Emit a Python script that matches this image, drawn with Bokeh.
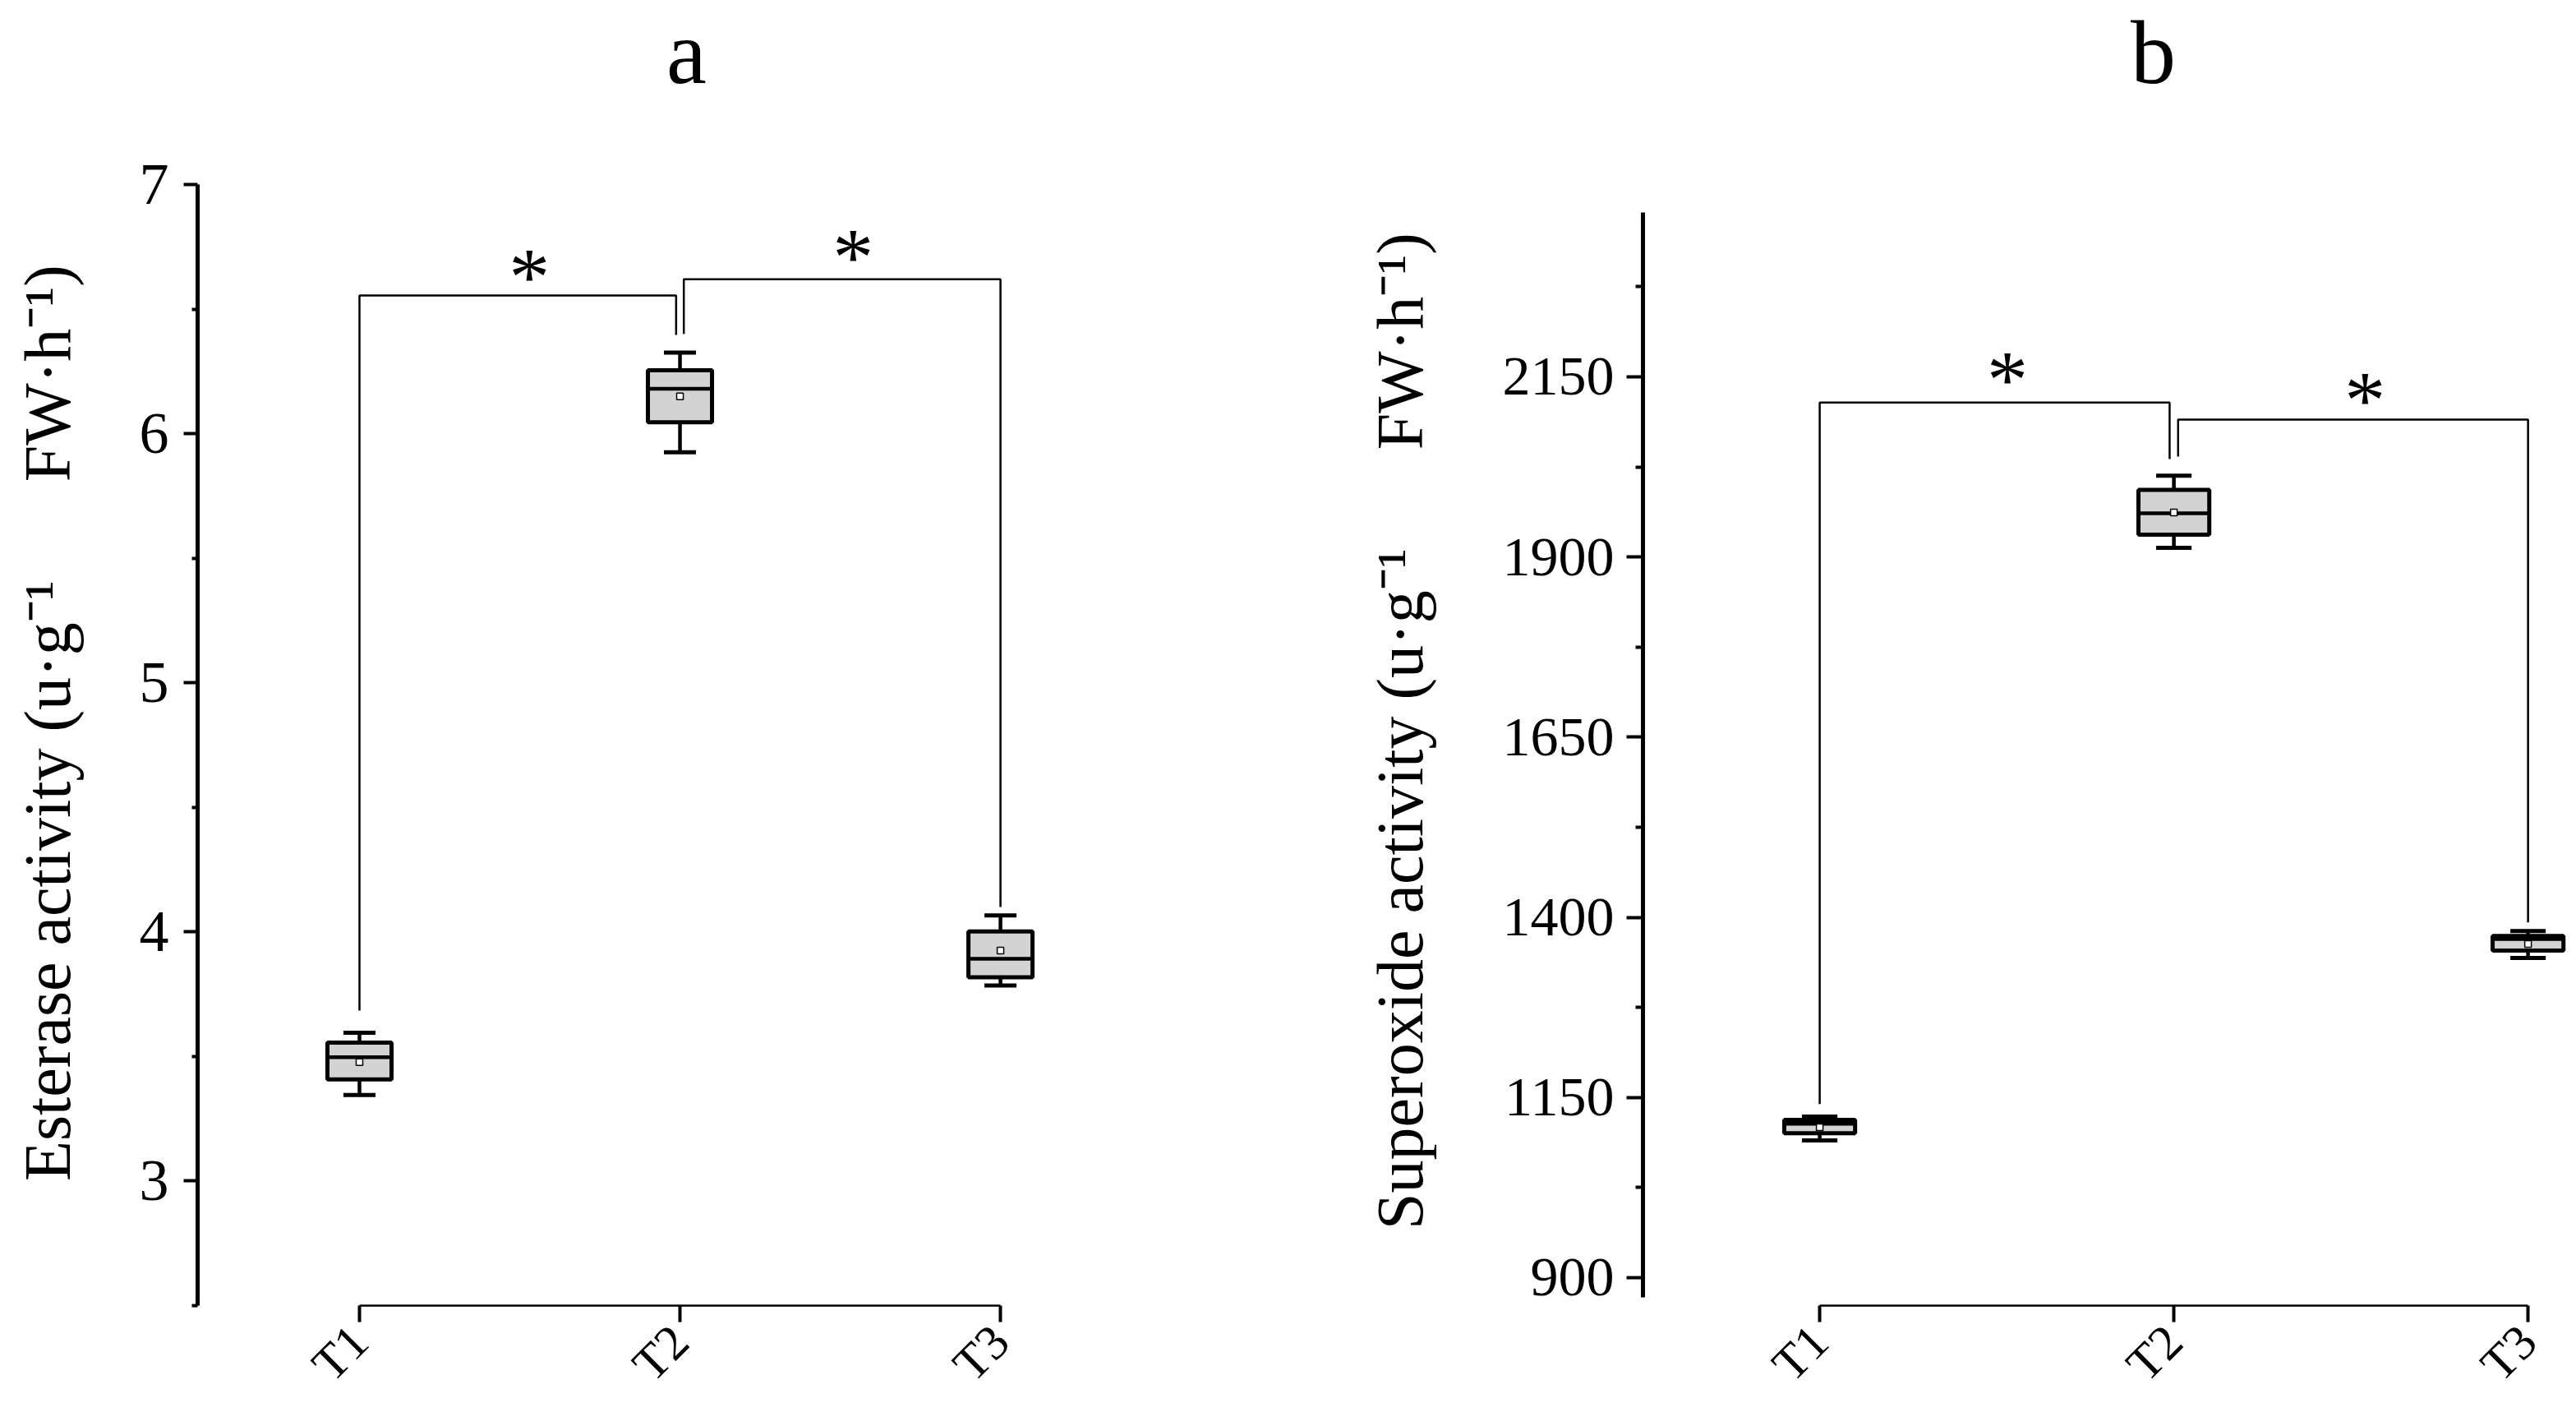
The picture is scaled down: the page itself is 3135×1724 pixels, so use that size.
import math
from bokeh.plotting import figure
from bokeh.models import Range1d, FixedTicker
from bokeh.layouts import row
from bokeh.embed import file_html
from bokeh.resources import INLINE
from bokeh.core.properties import value

FONT = "Liberation Serif"

# ---------------- data ----------------
groups = ["T1", "T2", "T3"]
xpos = [1, 2, 3]

# panel a : Esterase activity
a_whi = [3.595, 6.325, 4.066]
a_q3 = [3.556, 6.254, 4.002]
a_med = [3.497, 6.180, 3.892]
a_mean = [3.477, 6.150, 3.925]
a_q1 = [3.408, 6.046, 3.818]
a_wlo = [3.345, 5.925, 3.785]
a_brk_y = [6.555, 6.620]
a_brk_ends = [[3.684, 6.396], [6.400, 4.100]]
a_star_y = [6.677, 6.756]
a_major = [3, 4, 5, 6, 7]
a_minor = [2.5, 3.5, 4.5, 5.5, 6.5]
a_axis_bounds = (2.5, 7.0)
a_title = "a"
a_title_xy = (2.02, 7.528)

# panel b : Superoxide activity
b_whi = [1123.5, 2012.8, 1381.0]
b_q3 = [1119.0, 1993.0, 1374.0]
b_med = [1113.6, 1960.7, 1370.0]
b_mean = [1108.7, 1961.8, 1363.0]
b_q1 = [1100.5, 1931.0, 1354.0]
b_wlo = [1090.5, 1912.8, 1343.6]
b_brk_y = [2114.3, 2090.7]
b_brk_ends = [[1141.0, 2036.0], [2039.4, 1393.0]]
b_star_y = [2163.0, 2134.0]
b_major = [900, 1150, 1400, 1650, 1900, 2150]
b_minor = [1025, 1275, 1525, 1775, 2025, 2275]
b_axis_bounds = (872.6, 2378.0)
b_title = "b"
b_title_xy = (1.942, 2599.4)

pairs = [(1, 2), (2, 3)]
star_x = [1.53, 2.54]
star_text = ["*", "*"]

BOX_W = 0.2
CAP_W = 0.1
GAP = 0.012
STAR_PX = 100
TOP = 10
BOTTOM = 134
HEIGHT = 1722


def make_panel(width, xr, yr, bl, br, whi, q3, med, mean, q1, wlo,
               brk_y, brk_ends, star_y, major, minor, bounds, ylabel,
               title, title_xy, label_standoff, tick_standoff, major_len,
               minor_len, tick_font):
    p = figure(width=width, height=HEIGHT, x_range=Range1d(*xr), y_range=Range1d(*yr),
               output_backend="svg", toolbar_location=None,
               min_border_left=bl, min_border_right=br,
               min_border_top=TOP, min_border_bottom=BOTTOM)
    p.outline_line_color = None
    p.grid.visible = False
    p.background_fill_color = "white"
    p.border_fill_color = "white"

    ppu = (HEIGHT - TOP - BOTTOM) / (yr[1] - yr[0])

    # whiskers
    p.segment(x0=xpos, x1=xpos, y0=q3, y1=whi, line_color="black", line_width=4.5)
    p.segment(x0=xpos, x1=xpos, y0=q1, y1=wlo, line_color="black", line_width=4.5)
    cx0 = [x - CAP_W / 2 for x in xpos]
    cx1 = [x + CAP_W / 2 for x in xpos]
    p.segment(x0=cx0, x1=cx1, y0=whi, y1=whi, line_color="black", line_width=5)
    p.segment(x0=cx0, x1=cx1, y0=wlo, y1=wlo, line_color="black", line_width=5)
    # boxes
    p.vbar(x=xpos, width=BOX_W, top=q3, bottom=q1, fill_color="#d3d3d3",
           line_color="black", line_width=5)
    bx0 = [x - BOX_W / 2 for x in xpos]
    bx1 = [x + BOX_W / 2 for x in xpos]
    p.segment(x0=bx0, x1=bx1, y0=med, y1=med, line_color="black", line_width=4.5)
    p.scatter(x=xpos, y=mean, marker="square", size=8, fill_color="white",
              line_color="black", line_width=1.5)

    # significance brackets
    xs, ys = [], []
    for k, (i, j) in enumerate(pairs):
        xa = i + (GAP if k == 1 else 0)
        xb = j - (GAP if k == 0 else 0)
        xs.append([xa, xa, xb, xb])
        ys.append([brk_ends[k][0], brk_y[k], brk_y[k], brk_ends[k][1]])
    p.multi_line(xs=xs, ys=ys, line_color="black", line_width=2.5)
    base_y = [s - 0.14 * STAR_PX / ppu for s in star_y]
    p.text(x=star_x, y=base_y, text=star_text, text_font=value(FONT),
           text_font_size=f"{STAR_PX}px", text_align="center",
           text_baseline="alphabetic", text_color="black")

    # panel letter
    p.text(x=[title_xy[0]], y=[title_xy[1]], text=[title], text_font=value(FONT),
           text_font_size="110px", text_align="center",
           text_baseline="alphabetic", text_color="black")

    # y axis
    ya = p.yaxis[0]
    ya.ticker = FixedTicker(ticks=major, minor_ticks=minor)
    ya.bounds = bounds
    ya.axis_line_width = 5
    ya.axis_line_color = "black"
    ya.major_tick_line_width = 4
    ya.minor_tick_line_width = 4
    ya.major_tick_out = major_len
    ya.major_tick_in = 0
    ya.minor_tick_out = minor_len
    ya.minor_tick_in = 0
    ya.major_label_text_font = FONT
    ya.major_label_text_font_size = tick_font
    ya.major_label_text_color = "black"
    ya.major_label_standoff = tick_standoff
    ya.axis_label = ylabel
    ya.axis_label_text_font = FONT
    ya.axis_label_text_font_size = "80px"
    ya.axis_label_text_font_style = "normal"
    ya.axis_label_text_color = "black"
    ya.axis_label_standoff = label_standoff

    # x axis
    xa_ = p.xaxis[0]
    xa_.axis_label = None
    xa_.ticker = FixedTicker(ticks=xpos, minor_ticks=[])
    xa_.major_label_overrides = {x: g for x, g in zip(xpos, groups)}
    xa_.bounds = (xpos[0], xpos[-1])
    xa_.axis_line_width = 2.5
    xa_.axis_line_color = "black"
    xa_.major_tick_line_width = 4
    xa_.major_tick_out = 20
    xa_.major_tick_in = 0
    xa_.minor_tick_out = 0
    xa_.major_label_orientation = math.pi / 4
    xa_.major_label_text_font = FONT
    xa_.major_label_text_font_size = "60px"
    xa_.major_label_text_color = "black"
    xa_.major_label_standoff = 14

    p.title.text = ""
    return p


lab_a = "Esterase activity (u\u00b7g\u207b\u00b9\u2003\u2002FW\u00b7h\u207b\u00b9)\u2003\u2003"
lab_b = "Superoxide activity (u\u00b7g\u207b\u00b9\u2003\u2002FW\u00b7h\u207b\u00b9)\u2003\u2003\u2005"

p1 = make_panel(1508, (0.495, 3.31), (2.5, 7.706), 240, 170,
                a_whi, a_q3, a_med, a_mean, a_q1, a_wlo, a_brk_y, a_brk_ends,
                a_star_y, a_major, a_minor, a_axis_bounds, lab_a,
                a_title, a_title_xy, 65, 18, 17, 7, "72px")
p2 = make_panel(1619, (0.501, 3.118), (861.2, 2660.9), 491, 0,
                b_whi, b_q3, b_med, b_mean, b_q1, b_wlo, b_brk_y, b_brk_ends,
                b_star_y, b_major, b_minor, b_axis_bounds, lab_b,
                b_title, b_title_xy, 78, 15, 20, 9, "68px")

layout = row(p1, p2)
open("out.html", "w").write(file_html(layout, INLINE))
